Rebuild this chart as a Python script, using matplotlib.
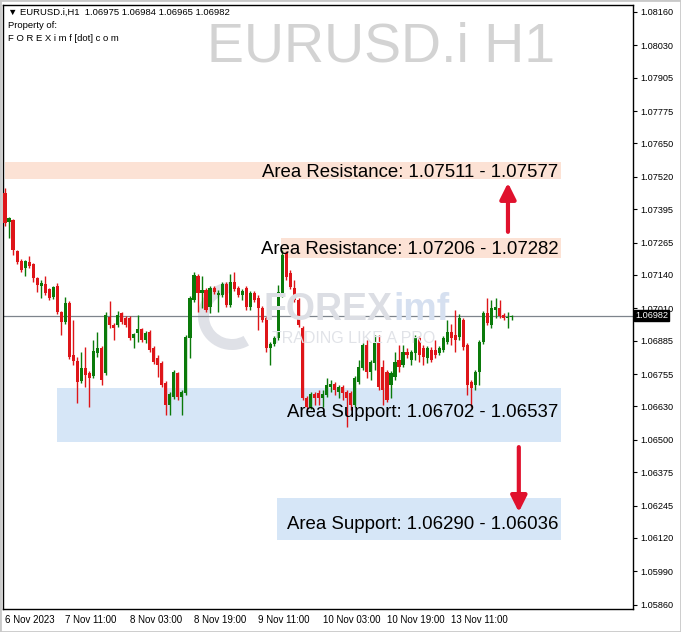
import matplotlib
matplotlib.use('Agg')
import matplotlib.pyplot as plt
import matplotlib.transforms as mtransforms
from matplotlib.patches import Rectangle, Wedge

plt.rcParams['font.family'] = ['Liberation Sans', 'DejaVu Sans']

# EURUSD.i H1 candles, 6 Nov 2023 20:00 .. 13 Nov 2023
opens = [1.07458, 1.07345, 1.07353, 1.07233, 1.07194, 1.07167, 1.07190, 1.07183, 1.07128, 1.07097,
         1.07105, 1.07086, 1.07054, 1.07097, 1.06996, 1.06957, 1.07031, 1.06830, 1.06806, 1.06729,
         1.06779, 1.06760, 1.06748, 1.06837, 1.06857, 1.06760, 1.06977, 1.06946, 1.06946, 1.06992,
         1.06973, 1.06973, 1.06895, 1.06915, 1.06930, 1.06888, 1.06919, 1.06857, 1.06818, 1.06798,
         1.06721, 1.06636, 1.06667, 1.06760, 1.06667, 1.06682, 1.06895, 1.07043, 1.07136, 1.07070,
         1.07082, 1.07015, 1.07089, 1.07062, 1.07062, 1.07105, 1.07023, 1.07113, 1.07089, 1.07062,
         1.07089, 1.07015, 1.07070, 1.07050, 1.07012, 1.06973, 1.06857, 1.06872, 1.06895, 1.07062,
         1.07225, 1.07148, 1.07089, 1.07043, 1.06934, 1.06663, 1.06628, 1.06678, 1.06682, 1.06663,
         1.06674, 1.06705, 1.06717, 1.06686, 1.06705, 1.06686, 1.06682, 1.06636, 1.06725, 1.06779,
         1.06868, 1.06763, 1.06798, 1.06880, 1.06783, 1.06763, 1.06713, 1.06744, 1.06810, 1.06791,
         1.06841, 1.06810, 1.06837, 1.06895, 1.06857, 1.06818, 1.06849, 1.06849, 1.06837, 1.06849,
         1.06880, 1.06919, 1.06907, 1.06899, 1.06965, 1.06868, 1.06725, 1.06713, 1.06763, 1.06880,
         1.06992, 1.06946, 1.07004, 1.07012, 1.06985, 1.06973, 1.06975]
highs = [1.07478, 1.07365, 1.07357, 1.07237, 1.07202, 1.07198, 1.07214, 1.07187, 1.07132, 1.07121,
         1.07136, 1.07089, 1.07097, 1.07109, 1.07000, 1.07054, 1.07039, 1.06965, 1.06822, 1.06841,
         1.06861, 1.06767, 1.06888, 1.06919, 1.06865, 1.06996, 1.07039, 1.06953, 1.07000, 1.06996,
         1.06981, 1.06981, 1.06915, 1.06985, 1.06934, 1.06922, 1.06926, 1.06865, 1.06830, 1.06806,
         1.06729, 1.06686, 1.06771, 1.06763, 1.06694, 1.06907, 1.07058, 1.07152, 1.07144, 1.07136,
         1.07089, 1.07097, 1.07097, 1.07082, 1.07113, 1.07113, 1.07144, 1.07152, 1.07097, 1.07086,
         1.07097, 1.07078, 1.07078, 1.07062, 1.07019, 1.06981, 1.06880, 1.06903, 1.07101, 1.07237,
         1.07233, 1.07159, 1.07121, 1.07050, 1.06942, 1.06671, 1.06686, 1.06686, 1.06694, 1.06694,
         1.06740, 1.06733, 1.06725, 1.06713, 1.06713, 1.06694, 1.06690, 1.06748, 1.06810, 1.06876,
         1.06888, 1.06810, 1.06907, 1.06907, 1.06810, 1.06771, 1.06767, 1.06841, 1.06868, 1.06868,
         1.06857, 1.06849, 1.06907, 1.06903, 1.06868, 1.06865, 1.06861, 1.06888, 1.06865, 1.06903,
         1.06965, 1.06949, 1.07004, 1.06988, 1.06973, 1.06876, 1.06733, 1.06771, 1.06888, 1.07000,
         1.07050, 1.07043, 1.07050, 1.07043, 1.06992, 1.06996, 1.06984]
lows = [1.07330, 1.07284, 1.07218, 1.07183, 1.07152, 1.07136, 1.07167, 1.07113, 1.07074, 1.07050,
        1.07062, 1.07043, 1.07047, 1.06988, 1.06907, 1.06949, 1.06814, 1.06791, 1.06643, 1.06721,
        1.06705, 1.06628, 1.06740, 1.06822, 1.06713, 1.06752, 1.06934, 1.06888, 1.06938, 1.06949,
        1.06938, 1.06888, 1.06857, 1.06880, 1.06880, 1.06876, 1.06841, 1.06794, 1.06744, 1.06705,
        1.06597, 1.06597, 1.06659, 1.06655, 1.06597, 1.06674, 1.06818, 1.07035, 1.06996, 1.07012,
        1.06996, 1.06992, 1.07066, 1.06996, 1.07054, 1.07015, 1.07015, 1.07078, 1.07054, 1.07043,
        1.07004, 1.07004, 1.07035, 1.06926, 1.06957, 1.06841, 1.06791, 1.06865, 1.06888, 1.07054,
        1.07121, 1.07086, 1.07035, 1.06938, 1.06655, 1.06616, 1.06620, 1.06636, 1.06636, 1.06628,
        1.06667, 1.06686, 1.06674, 1.06663, 1.06655, 1.06550, 1.06616, 1.06628, 1.06717, 1.06771,
        1.06740, 1.06733, 1.06771, 1.06694, 1.06636, 1.06647, 1.06663, 1.06733, 1.06763, 1.06783,
        1.06818, 1.06791, 1.06810, 1.06802, 1.06791, 1.06798, 1.06802, 1.06818, 1.06830, 1.06841,
        1.06872, 1.06868, 1.06841, 1.06888, 1.06849, 1.06674, 1.06628, 1.06694, 1.06713, 1.06872,
        1.06946, 1.06934, 1.06973, 1.06973, 1.06965, 1.06934, 1.06965]
closes = [1.07342, 1.07361, 1.07237, 1.07190, 1.07159, 1.07194, 1.07175, 1.07128, 1.07101, 1.07109,
          1.07070, 1.07050, 1.07093, 1.06996, 1.06957, 1.07031, 1.06822, 1.06806, 1.06725, 1.06779,
          1.06752, 1.06740, 1.06845, 1.06857, 1.06733, 1.06985, 1.06946, 1.06934, 1.06985, 1.06957,
          1.06946, 1.06895, 1.06911, 1.06930, 1.06888, 1.06915, 1.06849, 1.06802, 1.06791, 1.06713,
          1.06636, 1.06678, 1.06763, 1.06667, 1.06686, 1.06899, 1.07050, 1.07140, 1.07070, 1.07082,
          1.07004, 1.07089, 1.07074, 1.07070, 1.07105, 1.07023, 1.07113, 1.07086, 1.07062, 1.07078,
          1.07015, 1.07070, 1.07043, 1.07012, 1.06965, 1.06857, 1.06872, 1.06895, 1.07074, 1.07218,
          1.07132, 1.07093, 1.07043, 1.06946, 1.06663, 1.06628, 1.06678, 1.06663, 1.06663, 1.06678,
          1.06713, 1.06717, 1.06694, 1.06705, 1.06682, 1.06663, 1.06636, 1.06740, 1.06783, 1.06868,
          1.06763, 1.06802, 1.06876, 1.06705, 1.06694, 1.06655, 1.06760, 1.06802, 1.06783, 1.06841,
          1.06830, 1.06841, 1.06895, 1.06830, 1.06822, 1.06857, 1.06810, 1.06830, 1.06857, 1.06895,
          1.06919, 1.06895, 1.06888, 1.06973, 1.06861, 1.06713, 1.06702, 1.06763, 1.06880, 1.06992,
          1.06953, 1.07012, 1.07015, 1.06981, 1.06973, 1.06977, 1.06982]

price_ticks = [1.08160, 1.08030, 1.07905, 1.07775, 1.07650, 1.07520, 1.07395, 1.07265, 1.07140,
               1.07010, 1.06885, 1.06755, 1.06630, 1.06500, 1.06375, 1.06245, 1.06120, 1.05990, 1.05860]
time_ticks = [0, 15, 31, 47, 63, 79, 95, 111]
time_labels = ['6 Nov 2023', '7 Nov 11:00', '8 Nov 03:00', '8 Nov 19:00', '9 Nov 11:00',
               '10 Nov 03:00', '10 Nov 19:00', '13 Nov 11:00']

zone_labels = ['Area Resistance: 1.07511 - 1.07577', 'Area Resistance: 1.07206 - 1.07282',
               'Area Support: 1.06702 - 1.06537', 'Area Support: 1.06290 - 1.06036']
zone_low = [1.07511, 1.07206, 1.06490, 1.06111]
zone_high = [1.07578, 1.07282, 1.06702, 1.06274]
zone_start = [0, 68.7, 12.9, 67.7]
zone_end = 138.3
zone_label_base = [1.07520, 1.07221, 1.06589, 1.06154]
zone_colors = ['#fce2d5', '#fce2d5', '#d6e6f7', '#d6e6f7']

last_price = 1.06982
up_arrow = (125.1, 1.07307, 1.07497)
down_arrow = (127.8, 1.06472, 1.06220)

W, H = 681, 632
fig = plt.figure(figsize=(W / 100, H / 100), dpi=100)
ax = fig.add_axes([3 / W, (H - 609) / H, 630 / W, 604 / H])
ax.set_xlim(-0.5, 156.2)
ax.set_ylim(1.05844, 1.08187)

# zones
for lo, hi, x0, c in zip(zone_low, zone_high, zone_start, zone_colors):
    ax.add_patch(Rectangle((x0, lo), zone_end - x0, hi - lo, facecolor=c, edgecolor='none', zorder=1))
for yb, txt in zip(zone_label_base, zone_labels):
    ax.text(zone_end - 0.75, yb, txt, ha='right', va='baseline', fontsize=13.4,
            color='black', zorder=6)

# watermark logo
fig.text(263 / W, 1 - 320 / H, 'FOREX', fontsize=27, fontweight='bold', color='#dcdee4', zorder=0)
fig.text(393 / W, 1 - 320 / H, 'imf', fontsize=27, fontweight='bold', color='#d6e0f0', zorder=0)
fig.text(272 / W, 1 - 343 / H, 'TRADING LIKE A PRO', fontsize=11.5, color='#e1e3e8', zorder=0)
ax.add_patch(Wedge((232, H - 316), 34, 95, 300, width=11, facecolor='#dfe1e7', edgecolor='none',
                   transform=mtransforms.IdentityTransform(), zorder=1))

# big symbol watermark
fig.text(207 / W, 1 - 62 / H, 'EURUSD.i H1', fontsize=40, color='#d3d3d3')

# current price line
ax.axhline(last_price, color='#7d848c', lw=0.9, zorder=2)

# candles
up_c, dn_c = '#0a7a0a', '#de1519'
for i, (o, h, l, c) in enumerate(zip(opens, highs, lows, closes)):
    col = up_c if c >= o else dn_c
    ax.vlines(i, l, h, color=col, lw=1.0, zorder=3)
    ax.bar(i, max(abs(c - o), 0.000014), bottom=min(o, c), width=0.78, color=col,
           edgecolor='none', zorder=4)

# arrows
for x, y0, y1 in (up_arrow, down_arrow):
    ax.annotate('', xy=(x, y1), xytext=(x, y0),
                arrowprops=dict(arrowstyle='-|>', color='#e0112d', lw=3, mutation_scale=24,
                                shrinkA=0, shrinkB=0), zorder=7)

# axes styling
ax.yaxis.tick_right()
ax.set_yticks(price_ticks)
ax.set_yticklabels(['%.5f' % p for p in price_ticks], fontsize=6.6)
ax.set_xticks(time_ticks)
ax.set_xticklabels(time_labels, fontsize=7.0, ha='left')
shift = mtransforms.ScaledTranslation(1.5 / 100, 0, fig.dpi_scale_trans)
for lab in ax.get_xticklabels():
    lab.set_transform(lab.get_transform() + shift)
ax.tick_params(axis='y', length=3, width=0.8, pad=2)
ax.tick_params(axis='x', length=0, pad=4)
for s in ax.spines.values():
    s.set_linewidth(1)
    s.set_color('black')

# last price tag
ax.text(1.003, last_price, '%.5f' % last_price, transform=ax.get_yaxis_transform(),
        ha='left', va='center', fontsize=6.6, color='white', zorder=8,
        bbox=dict(boxstyle='square,pad=0.12', facecolor='black', edgecolor='black'))

# header
fig.text(8 / W, 1 - 15 / H, '\u25bc EURUSD.i,H1  1.06975 1.06984 1.06965 1.06982', fontsize=6.8)
fig.text(8 / W, 1 - 28 / H, 'Property of:', fontsize=6.8)
fig.text(8 / W, 1 - 41 / H, 'F O R E X i m f [dot] c o m', fontsize=6.8)

fig.patches.append(Rectangle((0, 0), 1, 1, transform=fig.transFigure, fill=False,
                             edgecolor='#c9c9c9', lw=2))

fig.savefig('out.png', dpi=100)
